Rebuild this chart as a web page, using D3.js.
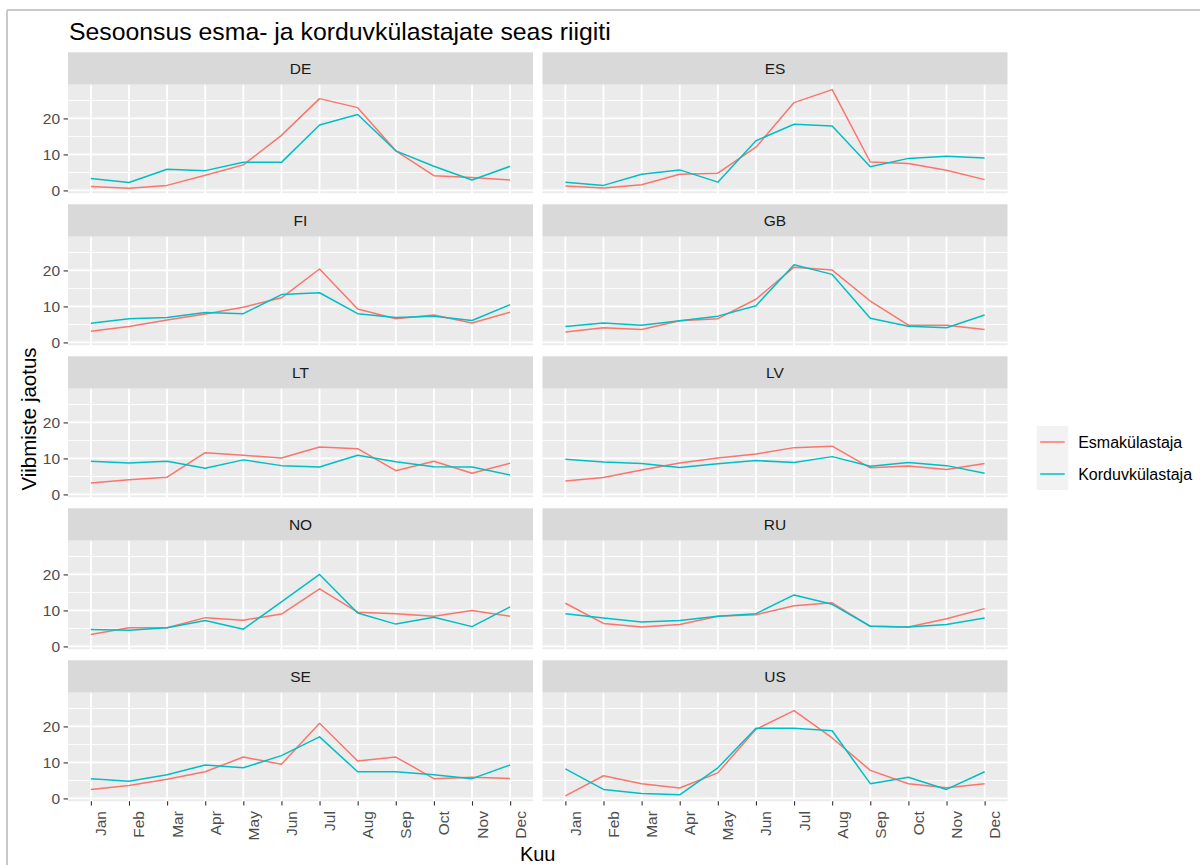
<!DOCTYPE html>
<html>
<head>
<meta charset="utf-8">
<script src="https://cdn.jsdelivr.net/npm/d3@7"></script>
<style>
  body { margin: 0; background: #fff; }
  svg { display: block; }
  text { font-family: "Liberation Sans", Arial, sans-serif; }
</style>
</head>
<body>
<svg id="chart" width="1200" height="865"></svg>
<script>
// Months on the x axis
const months = ["Jan","Feb","Mar","Apr","May","Jun","Jul","Aug","Sep","Oct","Nov","Dec"];
// Facet order (two columns, filled row by row)
const countries = ["DE","ES","FI","GB","LT","LV","NO","RU","SE","US"];
// Visitor groups
const groups = ["Esmakülastaja","Korduvkülastaja"];
const groupColors = ["#F8766D","#00BFC4"];
// y axis ticks
const yMajor = [0, 10, 20];
const yMinor = [5, 15, 25];

// Share of stays per month (%), first-time vs repeat visitors
const DE_esma    = [1.1, 0.6, 1.4, 4.2, 7.1, 15.3, 25.5, 23.0, 11.0, 4.1, 3.6, 2.9];
const DE_korduv  = [3.3, 2.2, 5.9, 5.5, 7.8, 7.8, 18.2, 21.1, 11.0, 6.7, 2.9, 6.7];
const ES_esma    = [1.2, 0.7, 1.6, 4.5, 4.8, 12.0, 24.4, 28.0, 7.9, 7.5, 5.6, 3.0];
const ES_korduv  = [2.3, 1.4, 4.5, 5.7, 2.3, 13.8, 18.4, 17.9, 6.6, 8.9, 9.5, 9.0];
const FI_esma    = [3.1, 4.4, 6.2, 7.9, 9.8, 12.4, 20.4, 9.3, 6.6, 7.6, 5.4, 8.4];
const FI_korduv  = [5.3, 6.6, 6.9, 8.3, 8.0, 13.3, 13.8, 8.0, 6.9, 7.3, 6.1, 10.5];
const GB_esma    = [2.9, 4.1, 3.6, 6.0, 6.6, 12.0, 20.9, 20.1, 11.5, 4.8, 4.8, 3.6];
const GB_korduv  = [4.4, 5.4, 4.8, 6.0, 7.3, 10.2, 21.6, 18.9, 6.7, 4.5, 4.1, 7.6];
const LT_esma    = [3.2, 4.1, 4.8, 11.6, 10.9, 10.1, 13.2, 12.7, 6.6, 9.2, 5.9, 8.7];
const LT_korduv  = [9.2, 8.7, 9.2, 7.3, 9.6, 8.0, 7.6, 10.9, 9.1, 7.7, 7.6, 5.4];
const LV_esma    = [3.7, 4.7, 6.8, 8.7, 10.1, 11.2, 13.0, 13.4, 7.4, 7.9, 6.9, 8.6];
const LV_korduv  = [9.8, 9.0, 8.6, 7.5, 8.5, 9.4, 8.9, 10.5, 7.8, 8.9, 8.0, 5.9];
const NO_esma    = [3.3, 5.2, 5.2, 8.0, 7.3, 9.0, 16.0, 9.5, 9.1, 8.4, 10.0, 8.4];
const NO_korduv  = [4.7, 4.5, 5.2, 7.2, 4.8, 12.4, 20.0, 9.3, 6.2, 8.1, 5.5, 11.0];
const RU_esma    = [12.0, 6.4, 5.4, 6.1, 8.4, 8.8, 11.3, 12.1, 5.6, 5.4, 7.7, 10.5];
const RU_korduv  = [9.1, 7.9, 6.8, 7.2, 8.4, 9.1, 14.3, 11.7, 5.6, 5.4, 6.1, 7.9];
const SE_esma    = [2.5, 3.6, 5.3, 7.4, 11.5, 9.5, 20.9, 10.4, 11.5, 5.5, 5.9, 5.5];
const SE_korduv  = [5.5, 4.8, 6.6, 9.3, 8.5, 11.9, 17.1, 7.4, 7.4, 6.6, 5.5, 9.3];
const US_esma    = [0.7, 6.3, 4.1, 2.9, 7.1, 19.2, 24.4, 16.8, 7.8, 4.1, 3.0, 4.1];
const US_korduv  = [8.2, 2.5, 1.4, 1.0, 8.5, 19.5, 19.5, 18.8, 4.1, 5.9, 2.5, 7.4];

const seriesByCountry = {
  DE: [DE_esma, DE_korduv], ES: [ES_esma, ES_korduv],
  FI: [FI_esma, FI_korduv], GB: [GB_esma, GB_korduv],
  LT: [LT_esma, LT_korduv], LV: [LV_esma, LV_korduv],
  NO: [NO_esma, NO_korduv], RU: [RU_esma, RU_korduv],
  SE: [SE_esma, SE_korduv], US: [US_esma, US_korduv]
};

// ---- layout ----
const panelX = [68, 542.5];
const panelW = 465;
const stripTop0 = 52.3;
const rowPitch = 152;
const stripH = 32.4;
const panelH = 108.5;
const tickLen = 4.4, tickPad = 3.5;
const smallFont = 15.5;

const svg = d3.select("#chart");

// outer frame (top and left edges)
svg.append("line").attr("x1", 7).attr("x2", 1200).attr("y1", 10).attr("y2", 10)
  .attr("stroke", "#c9c9c9").attr("stroke-width", 2);
svg.append("line").attr("x1", 7).attr("x2", 7).attr("y1", 10).attr("y2", 865)
  .attr("stroke", "#c9c9c9").attr("stroke-width", 2);

// shared scales
const x = d3.scalePoint().domain(months).range([0, panelW]).padding(0.6);
const allVals = Object.values(seriesByCountry).flat(2);
const [vMin, vMax] = d3.extent(allVals);
const pad = (vMax - vMin) * 0.05;
const y = d3.scaleLinear().domain([vMin - pad, vMax + pad]).range([panelH, 0]);

const line = d3.line().x((d, i) => x(months[i])).y(d => y(d));

countries.forEach((c, idx) => {
  const col = idx % 2, row = Math.floor(idx / 2);
  const top = stripTop0 + row * rowPitch;
  const g = svg.append("g").attr("transform", `translate(${panelX[col]},${top})`);

  // strip
  g.append("rect").attr("x", 0).attr("y", 0).attr("width", panelW).attr("height", stripH)
    .attr("fill", "#D9D9D9");
  g.append("text").attr("x", panelW / 2).attr("y", 21.8).attr("text-anchor", "middle")
    .attr("font-size", smallFont).attr("fill", "#1A1A1A").text(c);

  const p = g.append("g").attr("transform", `translate(0,${stripH})`);
  p.append("rect").attr("width", panelW).attr("height", panelH).attr("fill", "#EBEBEB");

  // grid
  p.selectAll(".minor").data(yMinor).join("line")
    .attr("x1", 0).attr("x2", panelW).attr("y1", d => y(d)).attr("y2", d => y(d))
    .attr("stroke", "#fff").attr("stroke-width", 0.9);
  p.selectAll(".majy").data(yMajor).join("line")
    .attr("x1", 0).attr("x2", panelW).attr("y1", d => y(d)).attr("y2", d => y(d))
    .attr("stroke", "#fff").attr("stroke-width", 1.8);
  p.selectAll(".majx").data(months).join("line")
    .attr("x1", d => x(d)).attr("x2", d => x(d)).attr("y1", 0).attr("y2", panelH)
    .attr("stroke", "#fff").attr("stroke-width", 1.8);

  // series
  seriesByCountry[c].forEach((vals, si) => {
    p.append("path").datum(vals).attr("d", line).attr("fill", "none")
      .attr("stroke", groupColors[si]).attr("stroke-width", 1.5)
      .attr("stroke-linejoin", "round");
  });

  // y axis on the left column
  if (col === 0) {
    const ay = p.append("g").call(d3.axisLeft(y).tickValues(yMajor).tickSize(tickLen).tickPadding(tickPad));
    ay.select(".domain").remove();
    ay.selectAll("line").attr("stroke", "#333333").attr("stroke-width", 1.1);
    ay.selectAll("text").attr("font-size", smallFont).attr("fill", "#4D4D4D")
      .attr("font-family", "Liberation Sans, Arial, sans-serif");
  }
  // x axis on the bottom row
  if (row === 4) {
    const ax = p.append("g").attr("transform", `translate(0,${panelH})`)
      .call(d3.axisBottom(x).tickSize(tickLen).tickPadding(tickPad));
    ax.select(".domain").remove();
    ax.selectAll("line").attr("stroke", "#333333").attr("stroke-width", 1.1);
    ax.selectAll("text")
      .attr("transform", "rotate(-90)")
      .attr("text-anchor", "end")
      .attr("x", -(tickLen + tickPad + 2))
      .attr("y", 15).attr("dy", null)
      .attr("font-size", smallFont).attr("fill", "#4D4D4D")
      .attr("font-family", "Liberation Sans, Arial, sans-serif");
  }
});

// title
svg.append("text").attr("x", 69).attr("y", 40).attr("font-size", 24.8).attr("fill", "#000")
  .text("Sesoonsus esma- ja korduvkülastajate seas riigiti");

// axis titles
svg.append("text").attr("x", 537.7).attr("y", 861).attr("text-anchor", "middle")
  .attr("font-size", 20).attr("fill", "#000").text("Kuu");
svg.append("text").attr("transform", "translate(36,419) rotate(-90)").attr("text-anchor", "middle")
  .attr("font-size", 20.5).attr("fill", "#000").text("Viibmiste jaotus");

// legend
const legend = svg.append("g").attr("transform", "translate(1036.7,426)");
groups.forEach((name, i) => {
  const gy = i * 32;
  legend.append("rect").attr("x", 0).attr("y", gy).attr("width", 31.6).attr("height", 32).attr("fill", "#F2F2F2");
  legend.append("line").attr("x1", 3.5).attr("x2", 28).attr("y1", gy + 16).attr("y2", gy + 16)
    .attr("stroke", groupColors[i]).attr("stroke-width", 1.5);
  legend.append("text").attr("x", 41.5).attr("y", gy + 21.5).attr("font-size", 16).attr("fill", "#000").text(name);
});
</script>
</body>
</html>
